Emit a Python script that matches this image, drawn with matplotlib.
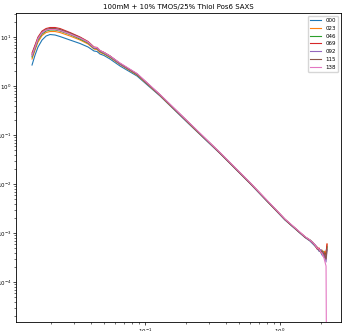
import numpy as np
import matplotlib
matplotlib.use("Agg")
import matplotlib.pyplot as plt

# ---------------------------------------------------------------------
# Data (q, intensity)
# ---------------------------------------------------------------------
q = [0.01455, 0.01532, 0.01611, 0.01726, 0.01849, 0.01977, 0.02154, 0.02344,
     0.02782, 0.03302, 0.03787, 0.04188, 0.04409, 0.04642, 0.04970, 0.05503,
     0.06531, 0.08728, 0.1292, 0.2154, 0.3594, 0.5995, 1.089, 1.532,
     1.668, 1.755, 1.815, 1.880, 1.946, 2.012, 2.047, 2.083, 2.118, 2.154,
     2.193, 2.230]

I_000 = [2.683, 4.293, 6.251, 8.688, 10.48, 11.25, 10.99, 10.24,
         8.683, 7.369, 6.248, 5.179, 5.063, 4.497, 4.195, 3.557,
         2.560, 1.599, 0.6252, 0.1600, 0.04193, 0.01024, 0.001842, 8.09e-4,
         6.87e-4, 5.96e-4, 5.43e-4, 4.94e-4, 4.29e-4, 4.09e-4, 3.56e-4, 4.09e-4,
         3.39e-4, 3.09e-4, 4.09e-4, 5.43e-4]

I_023 = [3.558, 5.430, 7.907, 10.73, 12.36, 12.95, 12.95, 12.36,
         10.48, 8.686, 7.194, 5.689, 5.562, 4.825, 4.501, 3.816,
         2.747, 1.676, 0.6400, 0.1638, 0.04293, 0.01048, 0.001886, 8.29e-4,
         7.03e-4, 6.25e-4, 5.69e-4, 5.18e-4, 4.72e-4, 4.09e-4, 4.50e-4, 3.56e-4,
         4.09e-4, 4.29e-4, 3.24e-4, 5.96e-4]

I_046 = [3.908, 5.826, 8.686, 11.52, 13.26, 13.90, 13.90, 13.26,
         11.24, 9.103, 7.539, 5.824, 5.830, 5.057, 4.608, 3.907,
         2.812, 1.716, 0.650, 0.166, 0.0427, 0.01045, 0.00188, 8.29e-4,
         7.20e-4, 6.40e-4, 5.56e-4, 4.94e-4, 4.39e-4, 4.50e-4, 3.91e-4, 4.29e-4,
         3.56e-4, 3.91e-4, 3.39e-4, 5.18e-4]

I_069 = [4.716, 6.867, 10.0, 13.26, 14.91, 15.63, 15.63, 14.91,
         12.35, 10.0, 8.09, 6.25, 6.11, 5.30, 4.83, 4.095,
         2.879, 1.757, 0.6553, 0.1677, 0.04293, 0.01048, 0.001886, 8.29e-4,
         7.03e-4, 6.25e-4, 5.69e-4, 4.72e-4, 4.94e-4, 3.91e-4, 4.29e-4, 3.39e-4,
         4.09e-4, 3.09e-4, 3.91e-4, 5.96e-4]

I_092 = [4.096, 6.106, 9.103, 12.07, 13.89, 14.57, 14.57, 13.89,
         11.51, 9.541, 7.719, 5.963, 5.830, 5.177, 4.717, 4.000,
         2.812, 1.757, 0.658, 0.1685, 0.0431, 0.01052, 0.00190, 8.29e-4,
         7.03e-4, 6.11e-4, 5.83e-4, 5.18e-4, 4.29e-4, 4.61e-4, 3.73e-4, 4.09e-4,
         3.24e-4, 3.56e-4, 2.56e-4, 4.50e-4]

I_115 = [4.395, 6.552, 9.541, 12.65, 14.23, 14.91, 14.91, 14.23,
         12.06, 9.767, 7.902, 6.104, 5.968, 5.177, 4.83, 4.095,
         2.879, 1.757, 0.6553, 0.1677, 0.04293, 0.01048, 0.001886, 8.29e-4,
         7.20e-4, 6.25e-4, 5.56e-4, 5.06e-4, 4.50e-4, 4.09e-4, 4.29e-4, 3.73e-4,
         3.91e-4, 3.39e-4, 2.95e-4, 4.72e-4]

I_138 = [4.293, 6.251, 9.319, 12.36, 13.89, 14.23, 14.23, 13.57,
         11.51, 9.541, 7.902, 6.104, 6.11, 5.30, 4.83, 4.095,
         2.948, 1.799, 0.6709, 0.1717, 0.04395, 0.01073, 0.001931, 8.48e-4,
         7.20e-4, 6.40e-4, 5.69e-4, 4.94e-4, 4.72e-4, 4.00e-4, 3.91e-4, 3.39e-4,
         3.09e-4, 2.56e-4, 2.12e-4, 1e-8]

labels = ["000", "023", "046", "069", "092", "115", "138"]
series = [I_000, I_023, I_046, I_069, I_092, I_115, I_138]

# ---------------------------------------------------------------------
# Plot
# ---------------------------------------------------------------------
fig = plt.figure(figsize=(3.45, 3.31), dpi=100)
ax = fig.add_axes([0.0464, 0.0272, 0.9420, 0.9335])

for lab, I in zip(labels, series):
    ax.loglog(q, I, lw=0.8, label=lab)

ax.set_xlim(0.01107, 2.83)
ax.set_ylim(1.53e-5, 30.9)

ax.set_title("100mM + 10% TMOS/25% Thiol Pos6 SAXS", fontsize=5, pad=3)
ax.tick_params(which="major", labelsize=4, length=2, width=0.5, pad=1.5)
ax.tick_params(which="minor", length=1.2, width=0.4)
for sp in ax.spines.values():
    sp.set_linewidth(0.6)

ax.legend(loc="upper right", fontsize=4, handlelength=2.0)

fig.savefig("out.png", dpi=100)
